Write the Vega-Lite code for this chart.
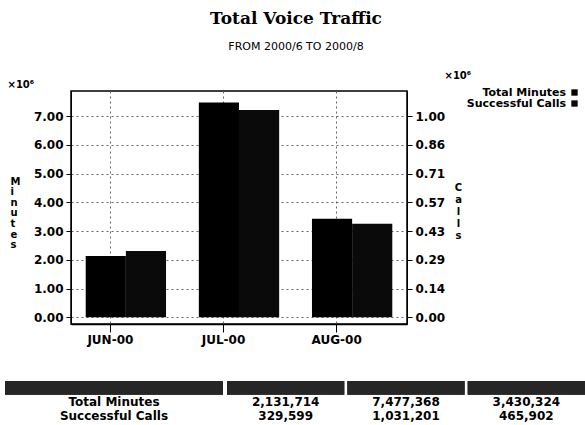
{
  "$schema": "https://vega.github.io/schema/vega-lite/v6.json",
  "background": "white",
  "padding": {"left": 5, "top": 10, "right": 0, "bottom": 0},
  "title": {
    "text": "Total Voice Traffic",
    "subtitle": "FROM 2000/6 TO 2000/8",
    "anchor": "middle",
    "dx": 1,
    "font": "DejaVu Serif",
    "fontSize": 17,
    "fontWeight": "bold",
    "color": "#000",
    "subtitleFont": "DejaVu Sans",
    "subtitleFontSize": 11,
    "subtitleColor": "#000",
    "subtitlePadding": 13,
    "offset": 16
  },
  "datasets": {
    "traffic": [
      {"month": "JUN-00", "series": "Total Minutes", "value": 2131714},
      {"month": "JUN-00", "series": "Successful Calls", "value": 329599},
      {"month": "JUL-00", "series": "Total Minutes", "value": 7477368},
      {"month": "JUL-00", "series": "Successful Calls", "value": 1031201},
      {"month": "AUG-00", "series": "Total Minutes", "value": 3430324},
      {"month": "AUG-00", "series": "Successful Calls", "value": 465902}
    ]
  },
  "spacing": 35,
  "vconcat": [
    {
      "spacing": 0,
      "hconcat": [
        {
          "width": 1,
          "height": 1,
          "data": {"values": []},
          "mark": {"type": "point"}
        },
        {
          "width": 336,
          "height": 233,
          "view": {"stroke": "#000", "strokeWidth": 1.5},
          "data": {"name": "traffic"},
          "encoding": {
            "x": {
              "field": "month",
              "type": "nominal",
              "sort": ["JUN-00", "JUL-00", "AUG-00"],
              "title": null,
              "scale": {"paddingInner": 0.29, "paddingOuter": 0.13},
              "axis": {
                "labelAngle": 0,
                "grid": true,
                "gridDash": [2, 3],
                "gridColor": "#666",
                "tickOffset": -16,
                "tickSize": 8,
                "labelPadding": 2,
                "domainWidth": 1.5
              }
            },
            "xOffset": {
              "field": "series",
              "type": "nominal",
              "scale": {"domain": ["Total Minutes", "Successful Calls"], "paddingInner": 0, "paddingOuter": 0}
            },
            "color": {
              "field": "series",
              "type": "nominal",
              "scale": {"domain": ["Total Minutes", "Successful Calls"], "range": ["#000000", "#0a0a0a"]},
              "legend": {
                "title": null,
                "orient": "none",
                "legendX": 564,
                "legendY": -4,
                "direction": "vertical",
                "symbolType": "square",
                "symbolSize": 40,
                "labelAlign": "right",
                "labelOffset": -14,
                "labelFontSize": 11,
                "labelFontWeight": "bold",
                "labelColor": "#000",
                "rowPadding": -8
              }
            }
          },
          "layer": [
            {
              "transform": [{"filter": "datum.series === 'Total Minutes'"}],
              "mark": {"type": "bar"},
              "encoding": {
                "y": {
                  "field": "value",
                  "type": "quantitative",
                  "scale": {"domain": [-233000, 7880000], "nice": false},
                  "axis": {
                    "orient": "left",
                    "values": [0, 1000000, 2000000, 3000000, 4000000, 5000000, 6000000, 7000000, 7880000],
                    "labelExpr": "datum.value > 7500000 ? '×10⁶' : format(datum.value / 1000000, '.2f')",
                    "labelOverlap": false,
                    "labelAlign": {"condition": {"test": "datum.value > 7500000", "value": "left"}, "value": "right"},
                    "labelBaseline": {"condition": {"test": "datum.value > 7500000", "value": "bottom"}, "value": "middle"},
                    "labelPadding": {"condition": {"test": "datum.value > 7500000", "value": 59}, "value": 3},
                    "labelFontSize": {"condition": {"test": "datum.value > 7500000", "value": 10}, "value": 12},
                    "labelOffset": {"condition": {"test": "datum.value > 7500000", "value": -2}, "value": 0},
                    "tickOpacity": {"condition": {"test": "datum.value > 7500000", "value": 0}, "value": 1},
                    "gridOpacity": {"condition": {"test": "datum.value > 7500000", "value": 0}, "value": 1},
                    "title": ["M", "i", "n", "u", "t", "e", "s"],
                    "titleAngle": 0,
                    "titleAlign": "left",
                    "titleBaseline": "top",
                    "titleX": -61,
                    "titleY": 85,
                    "titleLineHeight": 10.6,
                    "titleFontSize": 10,
                    "titleFontWeight": "bold",
                    "grid": true,
                    "gridDash": [2, 3],
                    "gridColor": "#666",
                    "tickSize": 5
                  }
                }
              }
            },
            {
              "transform": [{"filter": "datum.series === 'Successful Calls'"}],
              "mark": {"type": "bar"},
              "encoding": {
                "y": {
                  "field": "value",
                  "type": "quantitative",
                  "scale": {"domain": [-33286, 1125714], "nice": false},
                  "axis": {
                    "orient": "right",
                    "values": [0, 142857.14, 285714.29, 428571.43, 571428.57, 714285.71, 857142.86, 1000000, 1125714],
                    "labelExpr": "datum.value > 1100000 ? '×10⁶' : format(datum.value / 1000000, '.2f')",
                    "labelOverlap": false,
                    "labelBaseline": {"condition": {"test": "datum.value > 1100000", "value": "bottom"}, "value": "middle"},
                    "labelPadding": {"condition": {"test": "datum.value > 1100000", "value": 32}, "value": 3},
                    "labelFontSize": {"condition": {"test": "datum.value > 1100000", "value": 10}, "value": 12},
                    "labelOffset": {"condition": {"test": "datum.value > 1100000", "value": -11}, "value": 0},
                    "tickOpacity": {"condition": {"test": "datum.value > 1100000", "value": 0}, "value": 1},
                    "title": ["C", "a", "l", "l", "s"],
                    "titleAngle": 0,
                    "titleAlign": "center",
                    "titleBaseline": "top",
                    "titleX": 51,
                    "titleY": 91,
                    "titleLineHeight": 12,
                    "titleFontSize": 10,
                    "titleFontWeight": "bold",
                    "grid": false,
                    "tickSize": 5
                  }
                }
              }
            }
          ],
          "resolve": {"scale": {"y": "independent"}}
        }
      ]
    },
    {
      "spacing": 4,
      "hconcat": [
        {
          "width": 218,
          "height": 41,
          "data": {"name": "traffic"},
          "transform": [{"aggregate": [{"op": "count", "as": "n"}], "groupby": ["series"]}],
          "encoding": {
            "y": {
              "field": "series",
              "type": "nominal",
              "scale": {"domain": ["header", "Total Minutes", "Successful Calls"], "paddingInner": 0, "paddingOuter": 0},
              "axis": null
            }
          },
          "layer": [
            {"mark": {"type": "rect", "color": "#262626"}, "encoding": {"y": {"datum": "header", "type": "nominal"}}},
            {"mark": {"type": "text", "fontWeight": "bold", "fontSize": 12, "dy": 0.5, "color": "#000"}, "encoding": {"text": {"field": "series"}}}
          ]
        },
        {
          "width": 358,
          "height": 41,
          "data": {"name": "traffic"},
          "encoding": {
            "x": {
              "field": "month",
              "type": "nominal",
              "sort": ["JUN-00", "JUL-00", "AUG-00"],
              "scale": {"paddingInner": 0.025, "paddingOuter": 0},
              "axis": null
            },
            "y": {
              "field": "series",
              "type": "nominal",
              "scale": {"domain": ["header", "Total Minutes", "Successful Calls"], "paddingInner": 0, "paddingOuter": 0},
              "axis": null
            }
          },
          "layer": [
            {"mark": {"type": "rect", "color": "#262626"}, "encoding": {"y": {"datum": "header", "type": "nominal"}}},
            {"mark": {"type": "text", "fontWeight": "bold", "fontSize": 12, "dy": 0.5, "color": "#000"}, "encoding": {"text": {"field": "value", "type": "quantitative", "format": ","}}}
          ]
        }
      ]
    }
  ],
  "config": {
    "font": "DejaVu Sans",
    "view": {"stroke": null},
    "axis": {
      "labelFont": "DejaVu Sans",
      "labelFontWeight": "bold",
      "labelFontSize": 12,
      "labelColor": "#000",
      "titleColor": "#000",
      "titleFont": "DejaVu Sans",
      "domainColor": "#000",
      "tickColor": "#000"
    }
  }
}
